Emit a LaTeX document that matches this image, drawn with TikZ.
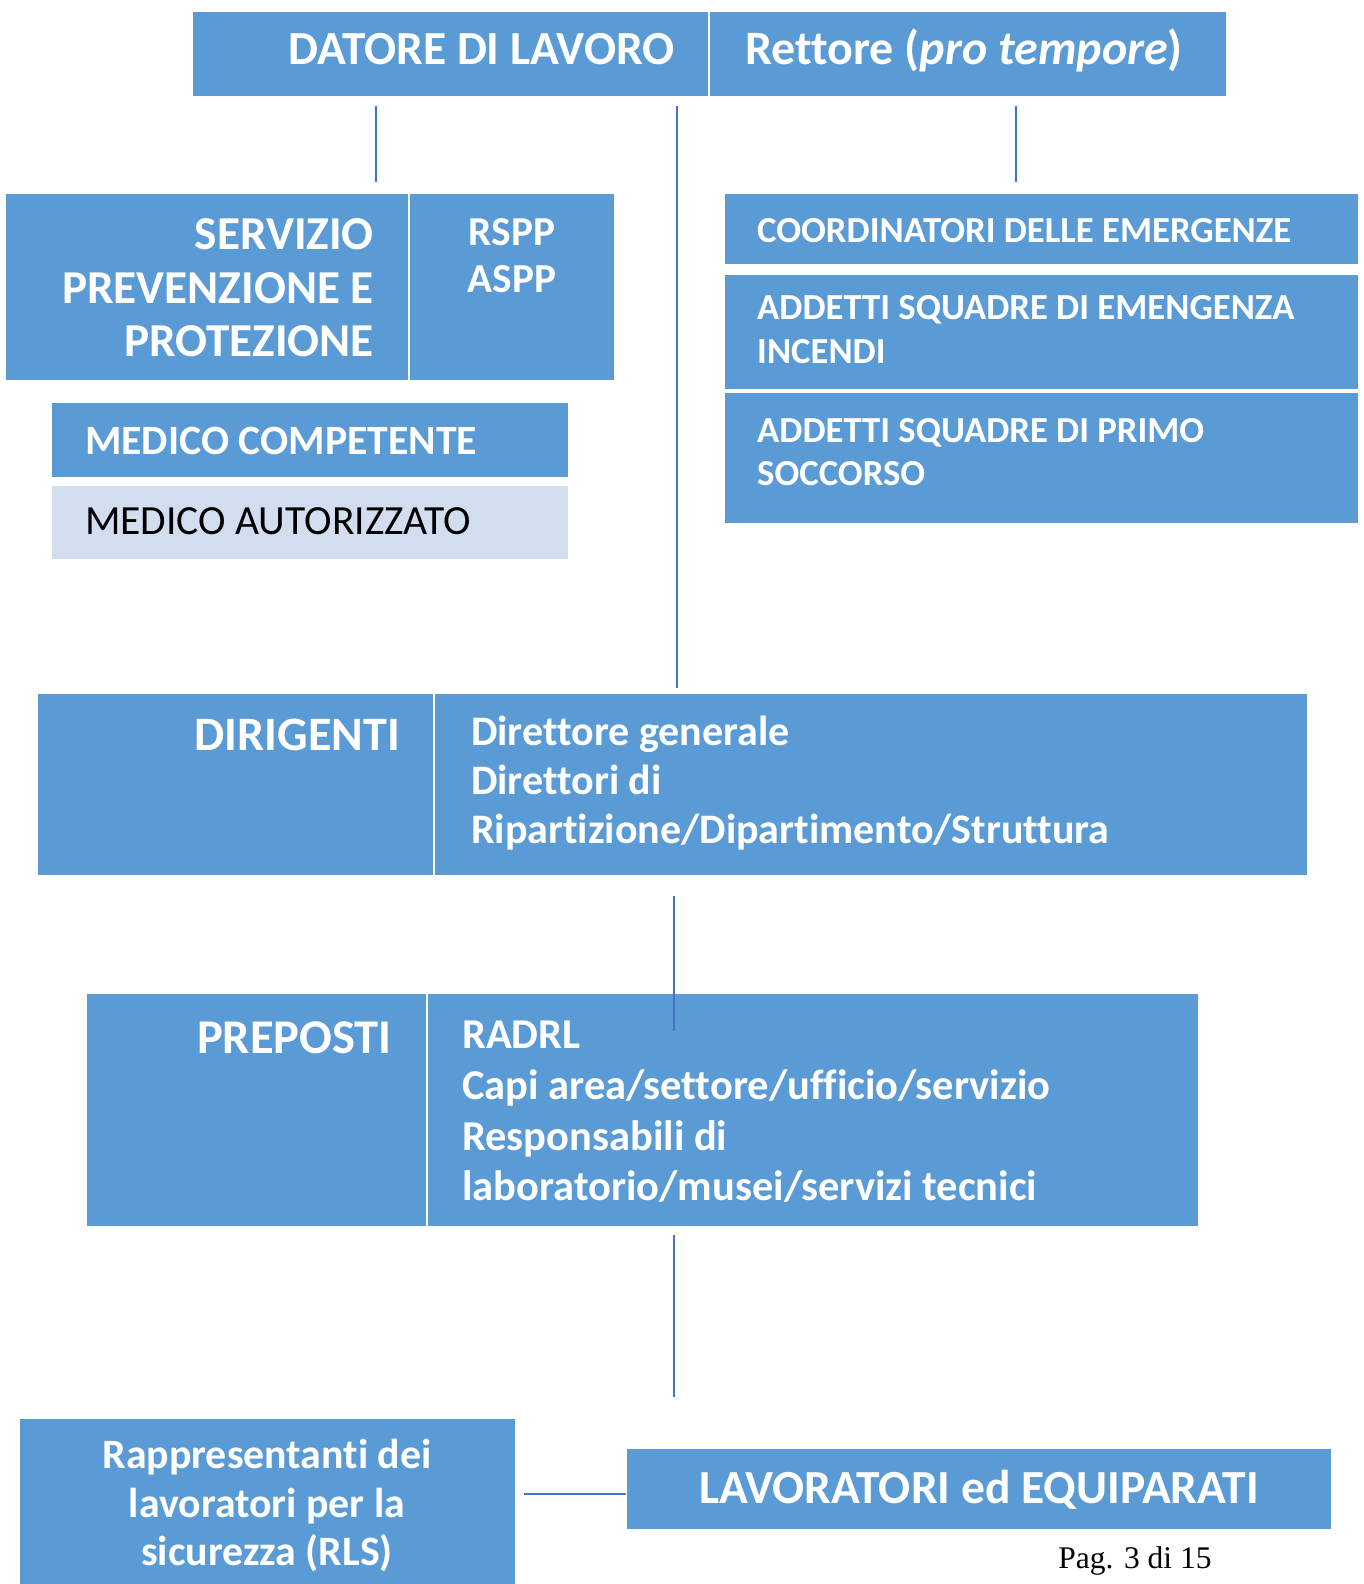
\documentclass[tikz,border=0pt]{standalone}
\usepackage{fontspec}
\setmainfont[Ligatures=NoCommon]{Carlito}
\newfontfamily\pagefont{Liberation Serif}
\definecolor{boxblue}{HTML}{5B9BD5}
\definecolor{paleblue}{HTML}{D2DEEF}
\definecolor{linkblue}{HTML}{4472C4}
\begin{document}
\begin{tikzpicture}[x=1pt,y=-1pt,
  box/.style={rectangle, fill=boxblue, draw=white, line width=1.5pt, inner sep=0pt, outer sep=0pt},
  palebox/.style={box, fill=paleblue},
  wt/.style={font=\bfseries\fontsize{#1}{#1}\selectfont, text=white, inner sep=0pt},
  bt/.style={font=\fontsize{#1}{#1}\selectfont, text=black, inner sep=0pt},
  link/.style={draw=linkblue, line width=1.5pt}]
\useasboundingbox[fill=white] (0,0) rectangle (1363,1584);

% boxes
\node[box, minimum width=517pt, minimum height=86pt] (dat) at (450.5,54) {};
\node[box, minimum width=518pt, minimum height=86pt] (ret) at (968,54) {};
\node[box, minimum width=404pt, minimum height=188pt] (spp) at (207,287) {};
\node[box, minimum width=206pt, minimum height=188pt] (rspp) at (512,287) {};
\node[box, minimum width=518pt, minimum height=76pt] (medc) at (310,440) {};
\node[palebox, minimum width=518pt, minimum height=75pt] (meda) at (310,522.5) {};
\node[box, minimum width=635pt, minimum height=72pt] (coord) at (1041.5,229) {};
\node[box, minimum width=635pt, minimum height=116pt] (inc) at (1041.5,332) {};
\node[box, minimum width=635pt, minimum height=132pt] (prim) at (1041.5,458) {};
\node[box, minimum width=397pt, minimum height=183pt] (dir) at (235.5,784.5) {};
\node[box, minimum width=874pt, minimum height=183pt] (dird) at (871,784.5) {};
\node[box, minimum width=341pt, minimum height=234pt] (prep) at (256.5,1110) {};
\node[box, minimum width=772pt, minimum height=234pt] (prepd) at (813,1110) {};
\node[box, minimum width=497pt, minimum height=176pt] (rls) at (267.5,1506) {};
\node[box, minimum width=706pt, minimum height=82pt] (lav) at (979,1489) {};

% connectors
\coordinate (c1a) at (376,106); \coordinate (c1b) at (376,182);
\coordinate (c2a) at (677,106); \coordinate (c2b) at (677,688);
\coordinate (c3a) at (1016,106); \coordinate (c3b) at (1016,182);
\coordinate (c4a) at (674,896); \coordinate (c4b) at (674,1031);
\coordinate (c5a) at (674,1235); \coordinate (c5b) at (674,1397);
\coordinate (c6a) at (524,1494);
\draw[link] (c1a) -- (c1b);
\draw[link] (c2a) -- (c2b);
\draw[link] (c3a) -- (c3b);
\draw[link] (c4a) -- (c4b);
\draw[link] (c5a) -- (c5b);
\draw[link, line width=2pt] (c6a) -- (lav.west |- c6a);

% texts
\node[wt=47.5, anchor=base west] (tdat) at (288,65) {DATORE DI LAVORO};
\node[wt=48, anchor=base west] (tret) at (745,65) {Rettore (\textit{pro tempore})};

\node[wt=47.2, anchor=base east] (ts1) at (374,249) {SERVIZIO};
\node[wt=47.2, anchor=base east] (ts2) at (374,303) {PREVENZIONE E};
\node[wt=47.2, anchor=base east] (ts3) at (374,356) {PROTEZIONE};
\node[wt=41.2, anchor=base] (tr1) at (512,245) {RSPP};
\node[wt=41.2, anchor=base] (tr2) at (512,292) {ASPP};

\node[wt=41.7, anchor=base west] (tmc) at (85,454) {MEDICO COMPETENTE};
\node[bt=41.5, anchor=base west] (tma) at (85,534) {MEDICO AUTORIZZATO};

\node[wt=36.7, anchor=base west] (tc) at (757,242) {COORDINATORI DELLE EMERGENZE};
\node[wt=36.7, anchor=base west] (ti1) at (757,319) {ADDETTI SQUADRE DI EMENGENZA};
\node[wt=36.7, anchor=base west] (ti2) at (757,363) {INCENDI};
\node[wt=36.7, anchor=base west] (tp1) at (757,442) {ADDETTI SQUADRE DI PRIMO};
\node[wt=36.7, anchor=base west] (tp2) at (757,485) {SOCCORSO};

\node[wt=48, anchor=base east] (tdir) at (400,750) {DIRIGENTI};
\node[wt=42, anchor=base west] (td1) at (471,745) {Direttore generale};
\node[wt=42, anchor=base west] (td2) at (471,794) {Direttori di};
\node[wt=42, anchor=base west] (td3) at (471,843) {Ripartizione/Dipartimento/Struttura};

\node[wt=48.5, anchor=base east] (tprep) at (392,1053) {PREPOSTI};
\node[wt=42.5, anchor=base west] (tq1) at (462,1048) {RADRL};
\node[wt=42.5, anchor=base west] (tq2) at (462,1099) {Capi area/settore/ufficio/servizio};
\node[wt=42.5, anchor=base west] (tq3) at (462,1150) {Responsabili di};
\node[wt=42.5, anchor=base west] (tq4) at (462,1200) {laboratorio/musei/servizi tecnici};

\node[wt=41.8, anchor=base] (tl1) at (267,1468) {Rappresentanti dei};
\node[wt=41.8, anchor=base] (tl2) at (267,1517) {lavoratori per la};
\node[wt=41.8, anchor=base] (tl3) at (267,1565) {sicurezza (RLS)};

\node[wt=47.5, anchor=base] (tlav) at (979,1503) {LAVORATORI ed EQUIPARATI};

\node[font=\pagefont\fontsize{31.5}{31.5}\selectfont, inner sep=0pt, anchor=base] (pag) at (1135,1568) {Pag. 3 di 15};
\end{tikzpicture}
\end{document}
